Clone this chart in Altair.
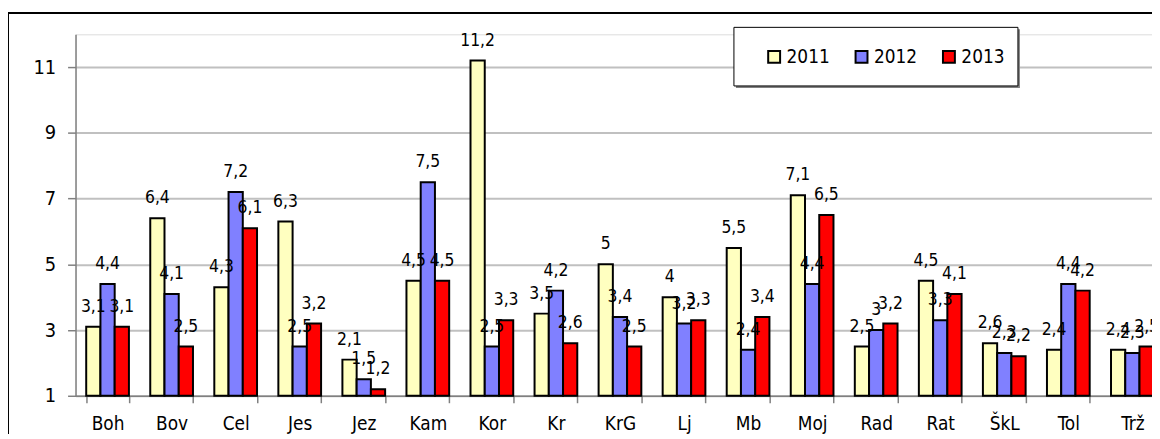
import altair as alt
import pandas as pd

cats = ["Boh", "Bov", "Cel", "Jes", "Jez", "Kam", "Kor", "Kr", "KrG", "Lj",
        "Mb", "Moj", "Rad", "Rat", "ŠkL", "Tol", "Trž"]
v2011 = [3.1, 6.4, 4.3, 6.3, 2.1, 4.5, 11.2, 3.5, 5, 4, 5.5, 7.1, 2.5, 4.5, 2.6, 2.4, 2.4]
v2012 = [4.4, 4.1, 7.2, 2.5, 1.5, 7.5, 2.5, 4.2, 3.4, 3.2, 2.4, 4.4, 3, 3.3, 2.3, 4.4, 2.3]
v2013 = [3.1, 2.5, 6.1, 3.2, 1.2, 4.5, 3.3, 2.6, 2.5, 3.3, 3.4, 6.5, 3.2, 4.1, 2.2, 4.2, 2.5]
years = ["2011", "2012", "2013"]
colors = ["#FFFFC0", "#8080FF", "#FF0000"]
y_ticks = [1, 3, 5, 7, 9, 11]

FONT = "DejaVu Sans Condensed, DejaVu Sans"


def fmt(v):
    s = ("%g" % v)
    return s.replace(".", ",")


rows = []
for yr, vals in zip(years, [v2011, v2012, v2013]):
    for c, v in zip(cats, vals):
        rows.append({"cat": c, "year": yr, "val": v, "label": fmt(v)})
df = pd.DataFrame(rows)

x_enc = alt.X(
    "cat:N", sort=cats,
    scale=alt.Scale(range=[0, 1096.5], paddingInner=0.333, paddingOuter=0.1667),
    axis=alt.Axis(title=None, labelAngle=0, tickBand="extent", domainColor="#808080",
                  domainWidth=1.5, tickColor="#808080", tickWidth=1.5, tickSize=7,
                  labelFontSize=19, labelPadding=12, labelColor="black", grid=False),
)
y_enc = alt.Y(
    "val:Q",
    scale=alt.Scale(domain=[1, 12], nice=False, zero=False),
    axis=alt.Axis(title=None, values=y_ticks, domainColor="#808080", domainWidth=1.5,
                  tickColor="#808080", tickWidth=1.5, tickSize=8, gridColor="#C0C0C0",
                  gridWidth=2, labelFontSize=20, labelPadding=12, labelColor="black"),
)
xoff = alt.XOffset("year:N", sort=years, scale=alt.Scale(domain=years, paddingInner=0, paddingOuter=0))

bars = alt.Chart(df).mark_bar(stroke="black", strokeWidth=2).encode(
    x=x_enc,
    xOffset=xoff,
    y=y_enc,
    y2=alt.datum(1),
    color=alt.Color(
        "year:N", sort=years,
        scale=alt.Scale(domain=years, range=colors),
        legend=alt.Legend(title=None, orient="none", legendX=694, legendY=13,
                          direction="horizontal", symbolType="square", symbolSize=144,
                          symbolStrokeColor="black", symbolStrokeWidth=2,
                          labelFontSize=19, labelOffset=3, columnPadding=21,
                          padding=0, labelColor="black"),
    ),
)

labels = alt.Chart(df).mark_text(baseline="alphabetic", dy=-15, fontSize=17.5,
                                 color="black").encode(
    x=alt.X("cat:N", sort=cats),
    xOffset=xoff,
    y=alt.Y("val:Q"),
    text="label:N",
)

one = pd.DataFrame({"k": [0]})
frame = alt.Chart(one).mark_rect(fillOpacity=0, stroke="black", strokeWidth=2).encode(
    x=alt.value(-68), x2=alt.value(1300), y=alt.value(-21.5), y2=alt.value(600)
)
shadow = alt.Chart(one).mark_rect(fill="#808080").encode(
    x=alt.value(665), x2=alt.value(951), y=alt.value(-5), y2=alt.value(54)
)
box = alt.Chart(one).mark_rect(fill="white", stroke="black", strokeWidth=1).encode(
    x=alt.value(663), x2=alt.value(949), y=alt.value(-7), y2=alt.value(52)
)

chart = alt.layer(frame, shadow, box, bars, labels).properties(
    width=1084, height=364,
    padding={"left": 68, "top": 25, "right": 0, "bottom": 37},
    autosize=alt.AutoSizeParams(type="none"),
).configure_view(stroke=None).configure(font=FONT, background="white")

chart.save("out.html", embed_options={"renderer": "svg", "actions": False})
